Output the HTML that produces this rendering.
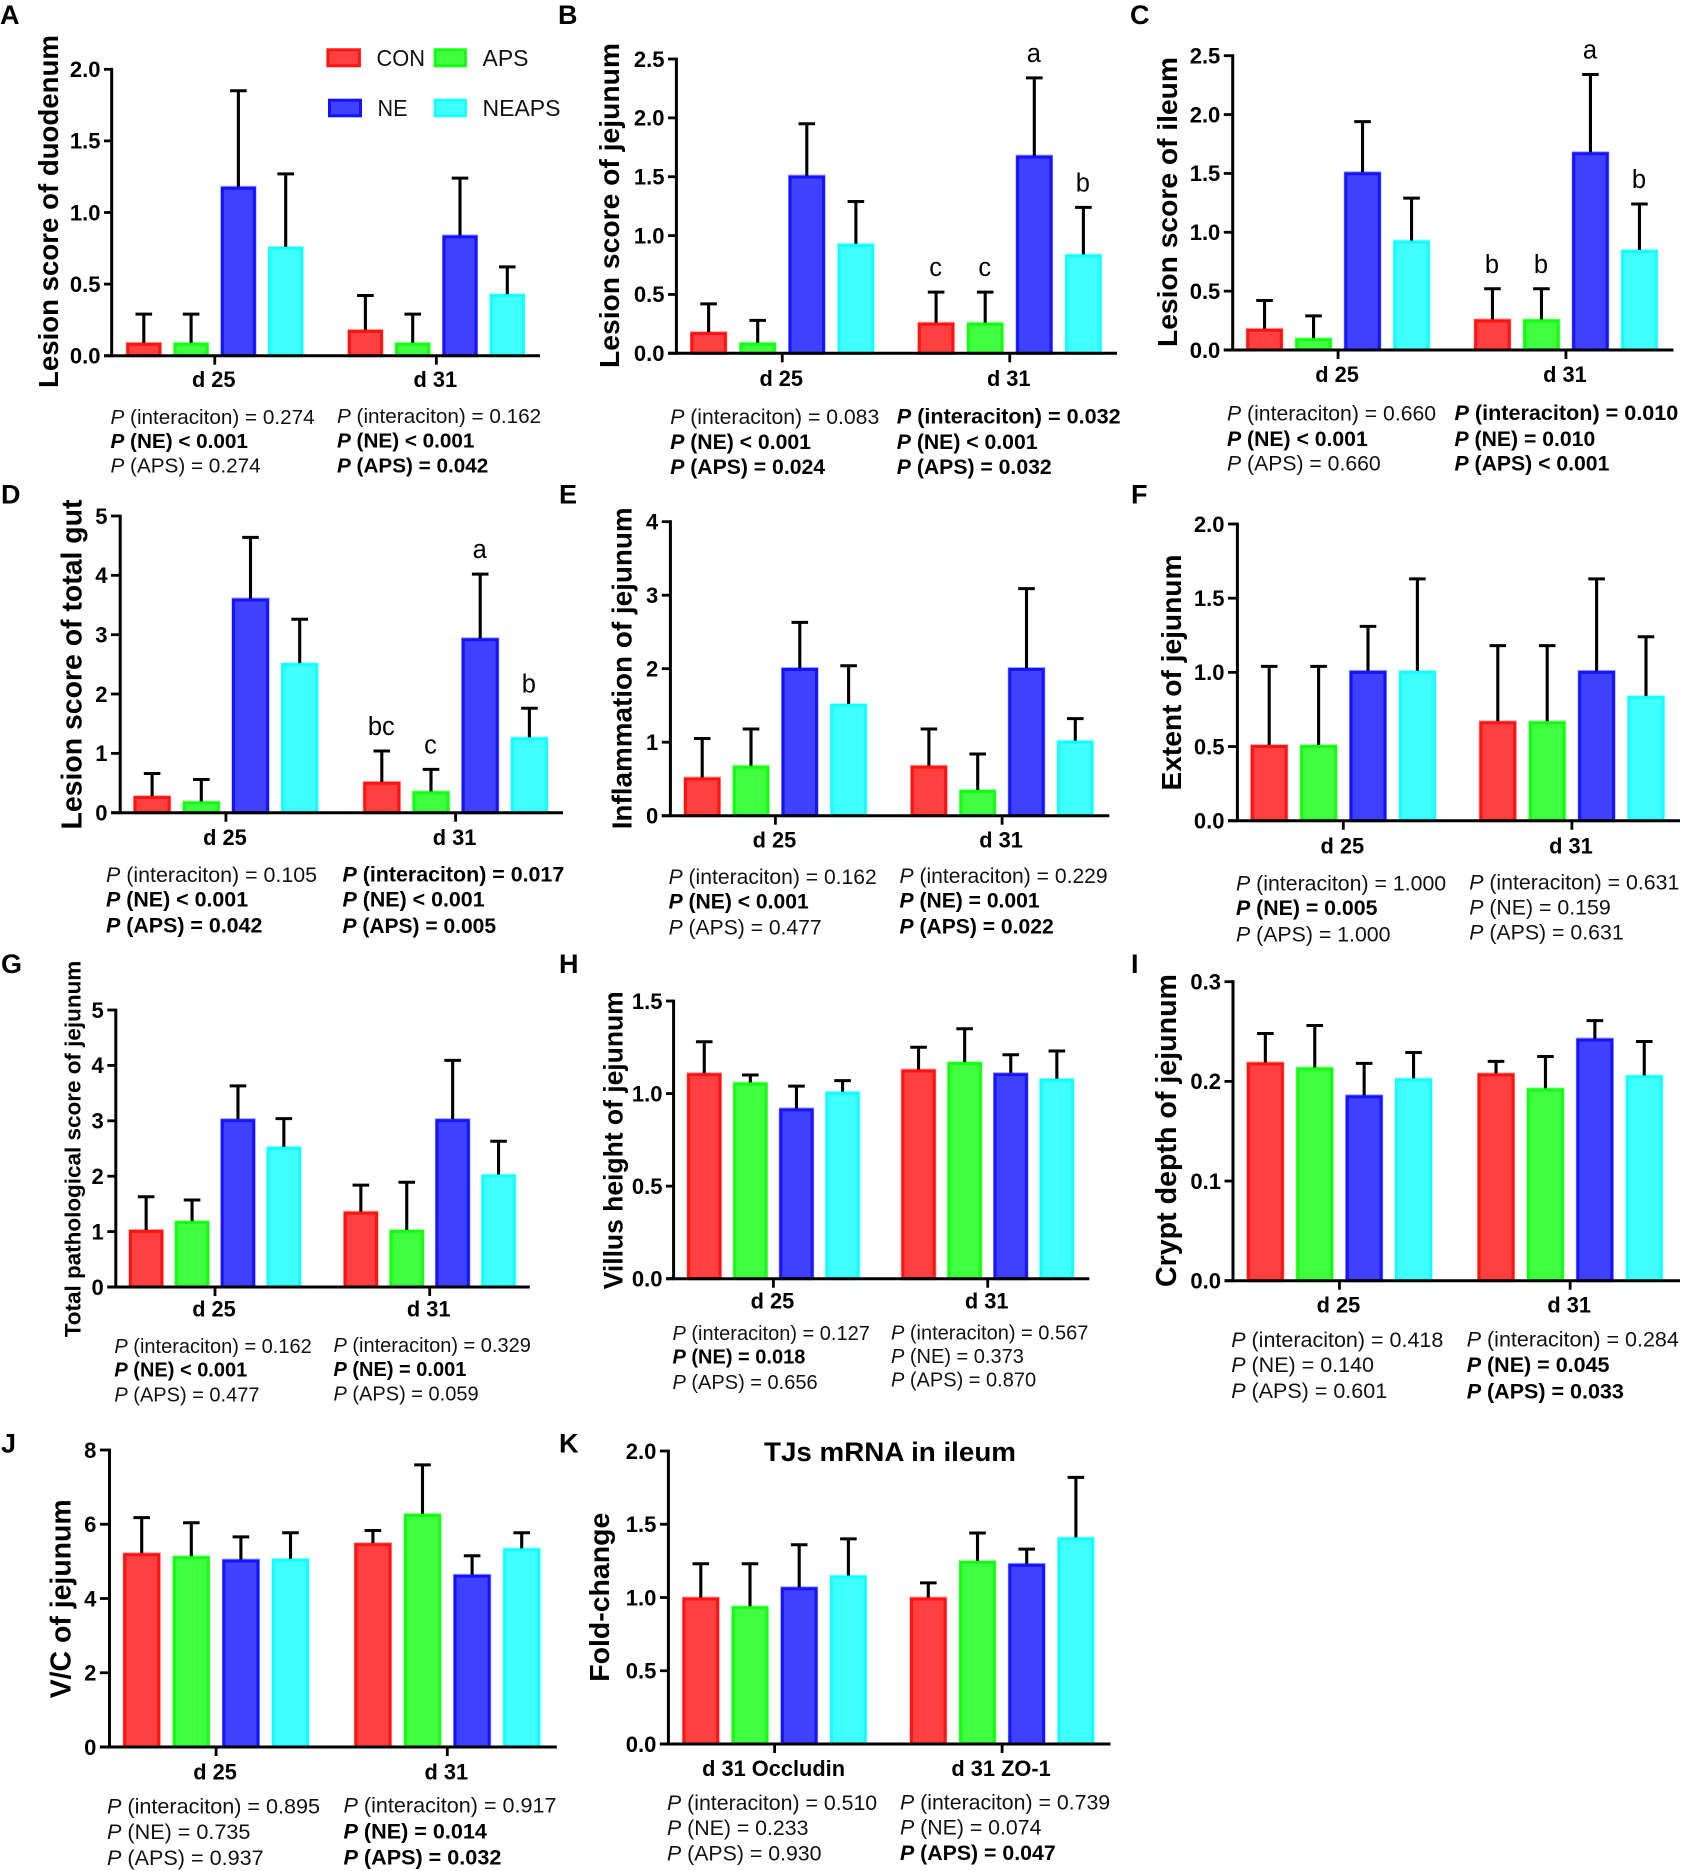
<!DOCTYPE html>
<html lang="en">
<head>
<meta charset="utf-8">
<title>Lesion scores and intestinal morphology by treatment</title>
<style>
html,body{margin:0;padding:0;background:#fff}
svg{display:block;filter:blur(0.35px)}
text{font-family:"Liberation Sans",Arial,sans-serif;fill:#000}
.r{font-weight:400;fill:#111}
.b{font-weight:700}
.i{font-style:italic}
.pl{font-weight:700;font-size:27px}
.yt{font-weight:700}
.lg{font-size:23px;fill:#111}
</style>
</head>
<body>
<svg id="fig" xmlns="http://www.w3.org/2000/svg" width="1681" height="1871" viewBox="0 0 1681 1871">
<rect width="1681" height="1871" fill="#fff"/>

<g>
<text class="pl" x="0" y="24">A</text>
<text class="pl" x="558" y="24">B</text>
<text class="pl" x="1130" y="24">C</text>
<text class="pl" x="1" y="503.5">D</text>
<text class="pl" x="559" y="503.5">E</text>
<text class="pl" x="1131" y="503.5">F</text>
<text class="pl" x="1" y="973">G</text>
<text class="pl" x="559" y="973">H</text>
<text class="pl" x="1131" y="973">I</text>
<text class="pl" x="1" y="1452.5">J</text>
<text class="pl" x="559" y="1452.5">K</text>
</g>

<g>
<text class="yt" font-size="27.6" transform="rotate(-90 58.2 388)" x="58.2" y="388" textLength="353" lengthAdjust="spacingAndGlyphs">Lesion score of duodenum</text>
<text class="yt" font-size="28.2" transform="rotate(-90 619 368)" x="619" y="368" textLength="325" lengthAdjust="spacingAndGlyphs">Lesion score of jejunum</text>
<text class="yt" font-size="28.2" transform="rotate(-90 1177.2 347)" x="1177.2" y="347" textLength="290" lengthAdjust="spacingAndGlyphs">Lesion score of ileum</text>
<text class="yt" font-size="28.3" transform="rotate(-90 81.4 829.5)" x="81.4" y="829.5" textLength="330" lengthAdjust="spacingAndGlyphs">Lesion score of total gut</text>
<text class="yt" font-size="27.8" transform="rotate(-90 631.4 829.3)" x="631.4" y="829.3" textLength="322" lengthAdjust="spacingAndGlyphs">Inflammation of jejunum</text>
<text class="yt" font-size="28" transform="rotate(-90 1180.8 790.5)" x="1180.8" y="790.5" textLength="236" lengthAdjust="spacingAndGlyphs">Extent of jejunum</text>
<text class="yt" font-size="22.1" transform="rotate(-90 80.6 1337.3)" x="80.6" y="1337.3" textLength="376.6" lengthAdjust="spacingAndGlyphs">Total pathological score of jejunum</text>
<text class="yt" font-size="26.4" transform="rotate(-90 622.5 1289.3)" x="622.5" y="1289.3" textLength="298" lengthAdjust="spacingAndGlyphs">Villus height of jejunum</text>
<text class="yt" font-size="28.4" transform="rotate(-90 1176.2 1287)" x="1176.2" y="1287" textLength="313" lengthAdjust="spacingAndGlyphs">Crypt depth of jejunum</text>
<text class="yt" font-size="28.3" transform="rotate(-90 70.3 1698.3)" x="70.3" y="1698.3" textLength="199" lengthAdjust="spacingAndGlyphs">V/C of jejunum</text>
<text class="yt" font-size="28.2" transform="rotate(-90 609.2 1681.7)" x="609.2" y="1681.7" textLength="169" lengthAdjust="spacingAndGlyphs">Fold-change</text>
</g>

<text class="b" font-size="26.5" x="764" y="1461" textLength="252" lengthAdjust="spacingAndGlyphs">TJs mRNA in ileum</text>

<g font-size="20.7">
<text class="r" x="110.5" y="424"><tspan class="i">P</tspan> (interaciton) = 0.274</text>
<text class="b" x="110.5" y="448"><tspan class="i">P</tspan> (NE) &lt; 0.001</text>
<text class="r" x="110.5" y="472.7"><tspan class="i">P</tspan> (APS) = 0.274</text>
<text class="r" x="337" y="423"><tspan class="i">P</tspan> (interaciton) = 0.162</text>
<text class="b" x="337" y="447.7"><tspan class="i">P</tspan> (NE) &lt; 0.001</text>
<text class="b" x="337" y="472.5"><tspan class="i">P</tspan> (APS) = 0.042</text>
</g>
<g font-size="21.2">
<text class="r" x="670.2" y="424"><tspan class="i">P</tspan> (interaciton) = 0.083</text>
<text class="b" x="670.2" y="449"><tspan class="i">P</tspan> (NE) &lt; 0.001</text>
<text class="b" x="670.2" y="474"><tspan class="i">P</tspan> (APS) = 0.024</text>
<text class="b" font-size="21.6" x="896.8" y="423.5"><tspan class="i">P</tspan> (interaciton) = 0.032</text>
<text class="b" x="896.8" y="449"><tspan class="i">P</tspan> (NE) &lt; 0.001</text>
<text class="b" x="896.8" y="474"><tspan class="i">P</tspan> (APS) = 0.032</text>
</g>
<g font-size="21.2">
<text class="r" x="1227" y="420.7"><tspan class="i">P</tspan> (interaciton) = 0.660</text>
<text class="b" x="1227" y="446"><tspan class="i">P</tspan> (NE) &lt; 0.001</text>
<text class="r" x="1227" y="470.7"><tspan class="i">P</tspan> (APS) = 0.660</text>
<text class="b" font-size="21.6" x="1454.5" y="420"><tspan class="i">P</tspan> (interaciton) = 0.010</text>
<text class="b" x="1454.5" y="446"><tspan class="i">P</tspan> (NE) = 0.010</text>
<text class="b" x="1454.5" y="470.7"><tspan class="i">P</tspan> (APS) &lt; 0.001</text>
</g>
<g font-size="21.4">
<text class="r" x="106" y="882"><tspan class="i">P</tspan> (interaciton) = 0.105</text>
<text class="b" x="106" y="906.7"><tspan class="i">P</tspan> (NE) &lt; 0.001</text>
<text class="b" x="106" y="932.7"><tspan class="i">P</tspan> (APS) = 0.042</text>
<text class="b" x="342.5" y="881.7"><tspan class="i">P</tspan> (interaciton) = 0.017</text>
<text class="b" x="342.5" y="906.7"><tspan class="i">P</tspan> (NE) &lt; 0.001</text>
<text class="b" font-size="21" x="342.5" y="933"><tspan class="i">P</tspan> (APS) = 0.005</text>
</g>
<g font-size="21.1">
<text class="r" x="668.6" y="884"><tspan class="i">P</tspan> (interaciton) = 0.162</text>
<text class="b" x="668.6" y="908.5"><tspan class="i">P</tspan> (NE) &lt; 0.001</text>
<text class="r" x="668.6" y="934.3"><tspan class="i">P</tspan> (APS) = 0.477</text>
<text class="r" x="899.5" y="883"><tspan class="i">P</tspan> (interaciton) = 0.229</text>
<text class="b" x="899.5" y="907.7"><tspan class="i">P</tspan> (NE) = 0.001</text>
<text class="b" x="899.5" y="933.3"><tspan class="i">P</tspan> (APS) = 0.022</text>
</g>
<g font-size="21.3">
<text class="r" x="1236" y="890.7"><tspan class="i">P</tspan> (interaciton) = 1.000</text>
<text class="b" x="1236" y="915.2"><tspan class="i">P</tspan> (NE) = 0.005</text>
<text class="r" x="1236" y="941.7"><tspan class="i">P</tspan> (APS) = 1.000</text>
<text class="r" x="1469.2" y="889.3"><tspan class="i">P</tspan> (interaciton) = 0.631</text>
<text class="r" x="1469.2" y="914.3"><tspan class="i">P</tspan> (NE) = 0.159</text>
<text class="r" x="1469.2" y="939.3"><tspan class="i">P</tspan> (APS) = 0.631</text>
</g>
<g font-size="20">
<text class="r" x="114.4" y="1353"><tspan class="i">P</tspan> (interaciton) = 0.162</text>
<text class="b" x="114.4" y="1376.7"><tspan class="i">P</tspan> (NE) &lt; 0.001</text>
<text class="r" x="114.4" y="1401.7"><tspan class="i">P</tspan> (APS) = 0.477</text>
<text class="r" x="333.5" y="1352"><tspan class="i">P</tspan> (interaciton) = 0.329</text>
<text class="b" x="333.5" y="1376"><tspan class="i">P</tspan> (NE) = 0.001</text>
<text class="r" x="333.5" y="1400.7"><tspan class="i">P</tspan> (APS) = 0.059</text>
</g>
<g font-size="20">
<text class="r" x="672.5" y="1340"><tspan class="i">P</tspan> (interaciton) = 0.127</text>
<text class="b" x="672.5" y="1363.5"><tspan class="i">P</tspan> (NE) = 0.018</text>
<text class="r" x="672.5" y="1389"><tspan class="i">P</tspan> (APS) = 0.656</text>
<text class="r" x="891" y="1339.3"><tspan class="i">P</tspan> (interaciton) = 0.567</text>
<text class="r" x="891" y="1363"><tspan class="i">P</tspan> (NE) = 0.373</text>
<text class="r" x="891" y="1386.7"><tspan class="i">P</tspan> (APS) = 0.870</text>
</g>
<g font-size="21.5">
<text class="r" x="1231.2" y="1347"><tspan class="i">P</tspan> (interaciton) = 0.418</text>
<text class="r" x="1231.2" y="1372.2"><tspan class="i">P</tspan> (NE) = 0.140</text>
<text class="r" x="1231.2" y="1397.8"><tspan class="i">P</tspan> (APS) = 0.601</text>
<text class="r" x="1466.7" y="1346.5"><tspan class="i">P</tspan> (interaciton) = 0.284</text>
<text class="b" x="1466.7" y="1371.8"><tspan class="i">P</tspan> (NE) = 0.045</text>
<text class="b" x="1466.7" y="1398.3"><tspan class="i">P</tspan> (APS) = 0.033</text>
</g>
<g font-size="21.6">
<text class="r" x="107" y="1813.3"><tspan class="i">P</tspan> (interaciton) = 0.895</text>
<text class="r" x="107" y="1838.8"><tspan class="i">P</tspan> (NE) = 0.735</text>
<text class="r" x="107" y="1865"><tspan class="i">P</tspan> (APS) = 0.937</text>
<text class="r" x="343.5" y="1812.7"><tspan class="i">P</tspan> (interaciton) = 0.917</text>
<text class="b" x="343.5" y="1838.7"><tspan class="i">P</tspan> (NE) = 0.014</text>
<text class="b" x="343.5" y="1864.5"><tspan class="i">P</tspan> (APS) = 0.032</text>
</g>
<g font-size="21.3">
<text class="r" x="667" y="1810"><tspan class="i">P</tspan> (interaciton) = 0.510</text>
<text class="r" x="667" y="1835"><tspan class="i">P</tspan> (NE) = 0.233</text>
<text class="r" x="667" y="1860.7"><tspan class="i">P</tspan> (APS) = 0.930</text>
<text class="r" x="900" y="1809.3"><tspan class="i">P</tspan> (interaciton) = 0.739</text>
<text class="r" x="900" y="1834.3"><tspan class="i">P</tspan> (NE) = 0.074</text>
<text class="b" x="900" y="1860"><tspan class="i">P</tspan> (APS) = 0.047</text>
</g>

<g>
<g>
<rect x="327.9" y="49.8" width="31.5" height="16" fill="#ff4040" stroke="#ff1414" stroke-width="3"/>
<text class="lg" x="376.5" y="66" textLength="48.5" lengthAdjust="spacingAndGlyphs">CON</text>
</g>
<g>
<rect x="435.1" y="49.8" width="30.3" height="16" fill="#40ff40" stroke="#14ff14" stroke-width="3"/>
<text class="lg" x="482.5" y="66" textLength="46" lengthAdjust="spacingAndGlyphs">APS</text>
</g>
<g>
<rect x="329.5" y="100.2" width="31" height="15.6" fill="#4040ff" stroke="#1414ff" stroke-width="3"/>
<text class="lg" x="377.5" y="116" textLength="30" lengthAdjust="spacingAndGlyphs">NE</text>
</g>
<g>
<rect x="435.1" y="100.2" width="30.3" height="15.6" fill="#40ffff" stroke="#14ffff" stroke-width="3"/>
<text class="lg" x="482.5" y="116" textLength="78" lengthAdjust="spacingAndGlyphs">NEAPS</text>
</g>
</g>

<g id="marks"></g>
</svg>

<script>
// Shared categories
const seriesNames = ['con', 'aps', 'ne', 'neaps'];
const days = ['d 25', 'd 31'];
const genes = ['d 31 Occludin', 'd 31 ZO-1'];

// Values: four bars in d 25 followed by four bars in d 31 (CON, APS, NE, NEAPS)
const meansA = [0.09, 0.09, 1.18, 0.76, 0.18, 0.09, 0.84, 0.43];
const errorsA = [0.20, 0.20, 0.67, 0.51, 0.24, 0.20, 0.40, 0.19];
const ticksA = ['0.0', '0.5', '1.0', '1.5', '2.0'];
const lettersA = ['', '', '', '', '', '', '', ''];

const meansB = [0.18, 0.09, 1.51, 0.93, 0.26, 0.26, 1.68, 0.84];
const errorsB = [0.24, 0.19, 0.44, 0.36, 0.26, 0.26, 0.66, 0.40];
const ticksB = ['0.0', '0.5', '1.0', '1.5', '2.0', '2.5'];
const lettersB = ['', '', '', '', 'c', 'c', 'a', 'b'];

const meansC = [0.18, 0.10, 1.51, 0.93, 0.26, 0.26, 1.68, 0.85];
const errorsC = [0.24, 0.19, 0.43, 0.36, 0.26, 0.26, 0.66, 0.39];
const ticksC = ['0.0', '0.5', '1.0', '1.5', '2.0', '2.5'];
const lettersC = ['', '', '', '', 'b', 'b', 'a', 'b'];

const meansD = [0.28, 0.19, 3.61, 2.52, 0.52, 0.36, 2.94, 1.27];
const errorsD = [0.38, 0.37, 1.03, 0.74, 0.52, 0.37, 1.08, 0.49];
const ticksD = ['0', '1', '2', '3', '4', '5'];
const lettersD = ['', '', '', '', 'bc', 'c', 'a', 'b'];

const meansE = [0.52, 0.68, 2.01, 1.52, 0.68, 0.35, 2.01, 1.02];
const errorsE = [0.53, 0.50, 0.62, 0.52, 0.50, 0.49, 1.08, 0.30];
const ticksE = ['0', '1', '2', '3', '4'];
const lettersE = ['', '', '', '', '', '', '', ''];

const meansF = [0.51, 0.51, 1.01, 1.01, 0.67, 0.67, 1.01, 0.84];
const errorsF = [0.53, 0.53, 0.30, 0.62, 0.51, 0.51, 0.62, 0.40];
const ticksF = ['0.0', '0.5', '1.0', '1.5', '2.0'];
const lettersF = ['', '', '', '', '', '', '', ''];

const meansG = [1.03, 1.19, 3.03, 2.53, 1.36, 1.03, 3.03, 2.03];
const errorsG = [0.60, 0.38, 0.60, 0.51, 0.48, 0.86, 1.06, 0.60];
const ticksG = ['0', '1', '2', '3', '4', '5'];
const lettersG = ['', '', '', '', '', '', '', ''];

const meansH = [1.11, 1.06, 0.92, 1.01, 1.13, 1.17, 1.11, 1.08];
const errorsH = [0.17, 0.04, 0.12, 0.06, 0.12, 0.18, 0.10, 0.15];
const ticksH = ['0.0', '0.5', '1.0', '1.5'];
const lettersH = ['', '', '', '', '', '', '', ''];

const meansI = [0.219, 0.214, 0.186, 0.203, 0.208, 0.193, 0.243, 0.206];
const errorsI = [0.029, 0.042, 0.032, 0.026, 0.012, 0.032, 0.018, 0.034];
const ticksI = ['0.0', '0.1', '0.2', '0.3'];
const lettersI = ['', '', '', '', '', '', '', ''];

const meansJ = [5.22, 5.14, 5.05, 5.07, 5.49, 6.28, 4.64, 5.35];
const errorsJ = [0.96, 0.90, 0.61, 0.70, 0.34, 1.32, 0.51, 0.42];
const ticksJ = ['0', '2', '4', '6', '8'];
const lettersJ = ['', '', '', '', '', '', '', ''];

const meansK = [1.00, 0.94, 1.07, 1.15, 1.00, 1.25, 1.23, 1.41];
const errorsK = [0.23, 0.29, 0.29, 0.25, 0.10, 0.19, 0.10, 0.41];
const ticksK = ['0.0', '0.5', '1.0', '1.5', '2.0'];
const lettersK = ['', '', '', '', '', '', '', ''];

// Panel frames (layout only)
const frameA = {axisX: 111.7, top: 69.3, base: 355.7, left: 104, right: 540, start1: 126.3, start2: 347.9, barW: 35, step: 47.3, catY: 387};
const frameB = {axisX: 676.4, top: 59, base: 353.3, left: 668, right: 1117, start1: 690.4, start2: 917.9, barW: 36.4, step: 49.1, catY: 386};
const frameC = {axisX: 1232.7, top: 55.7, base: 350, left: 1223.8, right: 1673.5, start1: 1246.3, start2: 1474.2, barW: 36.5, step: 49, catY: 382};
const frameD = {axisX: 120.2, top: 516, base: 812.7, left: 111, right: 563, start1: 133.6, start2: 363.3, barW: 37, step: 49.2, catY: 845};
const frameE = {axisX: 670.4, top: 521.7, base: 815.7, left: 661.8, right: 1109.3, start1: 684, start2: 910.7, barW: 36.4, step: 48.8, catY: 847.7};
const frameF = {axisX: 1237.4, top: 524, base: 820.7, left: 1228, right: 1680, start1: 1250.8, start2: 1479.4, barW: 36.8, step: 49.4, catY: 853.3};
const frameG = {axisX: 115.8, top: 1010, base: 1287, left: 107.3, right: 529.8, start1: 129, start2: 343.7, barW: 34.3, step: 45.9, catY: 1316.7};
const frameH = {axisX: 673.6, top: 1001, base: 1278.7, left: 666, right: 1089.3, start1: 687.1, start2: 901.4, barW: 34.3, step: 46.1, catY: 1308.3};
const frameI = {axisX: 1233, top: 981.7, base: 1280.7, left: 1224.5, right: 1680, start1: 1246.9, start2: 1477.6, barW: 36.9, step: 49.4, catY: 1312.3};
const frameJ = {axisX: 109.5, top: 1450, base: 1747, left: 99.9, right: 556.8, start1: 123.2, start2: 354.4, barW: 37, step: 49.6, catY: 1779.3};
const frameK = {axisX: 668.4, top: 1451, base: 1744, left: 659.9, right: 1110.5, start1: 682.5, start2: 910, barW: 36.6, step: 49.2, catY: 1776};

const fills = {con: '#ff4040', aps: '#40ff40', ne: '#4040ff', neaps: '#40ffff'};
const strokes = {con: '#ff1414', aps: '#14ff14', ne: '#1414ff', neaps: '#14ffff'};
const NS = 'http://www.w3.org/2000/svg';
const marks = document.getElementById('marks');

function node(parent, tag, props, content) {
  const el = document.createElementNS(NS, tag);
  Object.keys(props).forEach(function (k) { el.setAttribute(k, props[k]); });
  if (content !== undefined) el.textContent = content;
  parent.appendChild(el);
  return el;
}

function drawPanel(id, frame, cats, means, errors, ticks, letters) {
  const g = node(marks, 'g', {});
  
  

  const values = ticks.map(Number);
  const maxTick = Math.max.apply(null, values);
  const yAxis = function (v) { return frame.base - (v / maxTick) * (frame.base - frame.top); };
  const groupStart = function (c) { return c === 0 ? frame.start1 : frame.start2; };
  const xAxis = function (c, s) { return groupStart(c) + s * frame.step; };
  const groupCenter = function (c) { return groupStart(c) + (3 * frame.step + frame.barW) / 2; };
  const sw = 3;

  means.forEach(function (m, idx) {
    const c = Math.floor(idx / seriesNames.length);
    const s = idx % seriesNames.length;
    const key = seriesNames[s];
    const x = xAxis(c, s);
    const cx = x + frame.barW / 2;
    const yMean = yAxis(m);
    const yErr = yAxis(m + errors[idx]);

    const halo = node(g, 'rect', {
      x: x - 0.6,
      y: yMean - 1,
      width: frame.barW + 1.2,
      height: Math.max(0, frame.base - yMean + 1),
      fill: strokes[key],
      opacity: 0.38
    });
    
    

    const bar = node(g, 'rect', {
      x: x + sw / 2,
      y: yMean + sw / 2,
      width: frame.barW - sw,
      height: Math.max(0, frame.base - yMean - sw / 2),
      fill: fills[key],
      stroke: strokes[key],
      'stroke-width': sw
    });
    
    

    const stem = node(g, 'line', {x1: cx, x2: cx, y1: yMean, y2: yErr, stroke: '#000', 'stroke-width': 3.1});
    
    

    const cap = node(g, 'line', {x1: cx - 8.3, x2: cx + 8.3, y1: yErr, y2: yErr, stroke: '#000', 'stroke-width': 3});
    
    

    if (letters[idx]) {
      const sig = node(g, 'text', {x: cx - 0.5, y: yErr - 16, 'text-anchor': 'middle', 'font-size': 25.5, fill: '#111'}, letters[idx]);
      
      
    }
  });

  const yLine = node(g, 'line', {x1: frame.axisX, x2: frame.axisX, y1: frame.top - 1.4, y2: frame.base + 1.4, stroke: '#000', 'stroke-width': 3});
  
  

  const xLine = node(g, 'line', {x1: frame.left, x2: frame.right, y1: frame.base, y2: frame.base, stroke: '#000', 'stroke-width': 3});
  
  

  ticks.forEach(function (label, i) {
    const y = yAxis(values[i]);
    const tick = node(g, 'line', {x1: frame.left, x2: frame.axisX, y1: y, y2: y, stroke: '#000', 'stroke-width': 2.8});
    
    
    const t = node(g, 'text', {x: frame.left - 3.5, y: y + 7.8, 'text-anchor': 'end', 'font-size': 22, 'font-weight': 700}, label);
    
    
  });

  cats.forEach(function (label, c) {
    const cx = groupCenter(c);
    const tick = node(g, 'line', {x1: cx, x2: cx, y1: frame.base, y2: frame.base + 9, stroke: '#000', 'stroke-width': 2.8});
    
    
    const t = node(g, 'text', {x: cx - 1, y: frame.catY, 'text-anchor': 'middle', 'font-size': 21.8, 'font-weight': 700}, label);
    
    
  });
}

drawPanel('a', frameA, days, meansA, errorsA, ticksA, lettersA);
drawPanel('b', frameB, days, meansB, errorsB, ticksB, lettersB);
drawPanel('c', frameC, days, meansC, errorsC, ticksC, lettersC);
drawPanel('d', frameD, days, meansD, errorsD, ticksD, lettersD);
drawPanel('e', frameE, days, meansE, errorsE, ticksE, lettersE);
drawPanel('f', frameF, days, meansF, errorsF, ticksF, lettersF);
drawPanel('g', frameG, days, meansG, errorsG, ticksG, lettersG);
drawPanel('h', frameH, days, meansH, errorsH, ticksH, lettersH);
drawPanel('i', frameI, days, meansI, errorsI, ticksI, lettersI);
drawPanel('j', frameJ, days, meansJ, errorsJ, ticksJ, lettersJ);
drawPanel('k', frameK, genes, meansK, errorsK, ticksK, lettersK);
</script>
</body>
</html>
